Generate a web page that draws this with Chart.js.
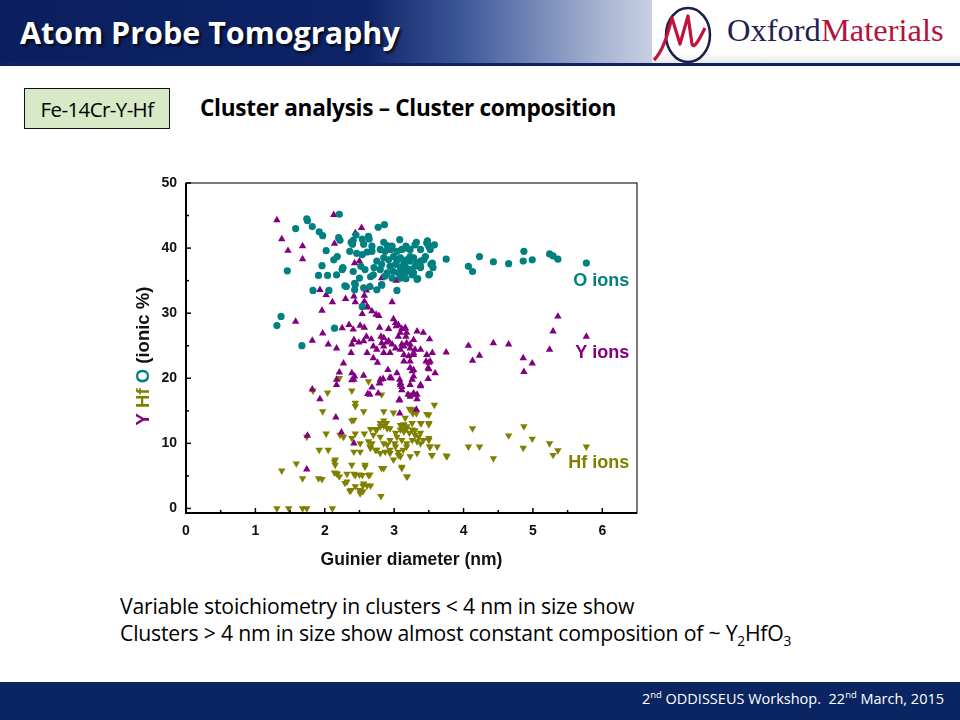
<!DOCTYPE html>
<html><head><meta charset="utf-8">
<script src="https://cdn.jsdelivr.net/npm/chart.js@4.4.1/dist/chart.umd.min.js"></script>
<style>
body{margin:0;width:960px;height:720px;position:relative;overflow:hidden;background:#fff;font-family:'Open Sans',sans-serif}
.abs{position:absolute}
#hdr{left:0;top:0;width:960px;height:64px;background:linear-gradient(to right,#0b1f5e 0%,#0e2467 38%,#3d5696 48%,#7d90bd 57%,#aab6d2 63%,#c8d0e2 68%,#dfe3ec 100%)}
#title{left:20px;top:11px;font:bold 30.5px 'Open Sans';color:#fff;text-shadow:2px 2px 3px rgba(0,0,0,.8);white-space:nowrap}
#logo{left:652px;top:0;width:308px;height:63px;background:linear-gradient(to bottom,#fff 0%,#fff 85%,#e8e8ea 100%)}
#hline{left:0;top:63px;width:960px;height:3px;background:#0d2466}
#logotxt{left:727px;top:12px;font:32.5px 'Liberation Serif',serif;white-space:nowrap;color:#1e2350}
#logotxt span{color:#b5123a}
#box{left:24px;top:88px;background:#d7e9c6;border:1.5px solid #111;font:20.5px 'Open Sans';display:flex;align-items:center;justify-content:center;box-sizing:border-box;width:146px;height:41px;letter-spacing:-0.6px}
#sub{left:200px;top:92px;font:bold 22.6px 'Open Sans';white-space:nowrap;color:#000;letter-spacing:-0.3px}
#txt{left:120px;top:592px;font:21.2px 'Open Sans';line-height:27px;color:#000;white-space:nowrap;letter-spacing:-0.2px}
#foot{left:0;top:682px;width:960px;height:38px;background:#0b2563}
#foottxt{right:16px;top:689px;font:14.5px 'Open Sans';color:#fff;white-space:nowrap}
sup{font-size:65%;line-height:0}
sub{font-size:65%;line-height:0}
</style></head><body>
<div id="hdr" class="abs"></div>
<div id="title" class="abs">Atom Probe Tomography</div>
<div id="logo" class="abs"></div>
<svg class="abs" style="left:650px;top:2px" width="76" height="62">
<ellipse cx="38" cy="33" rx="22" ry="27" fill="none" stroke="#1c1f4a" stroke-width="2.5"/>
<path d="M4 58 C14 48 18 30 22 16 L30 42 L38 14 L42 42 C44 48 50 36 55 26" fill="none" stroke="#c0143c" stroke-width="3.2" stroke-linejoin="round"/>
</svg>
<div id="logotxt" class="abs">Oxford<span>Materials</span></div>
<div id="hline" class="abs"></div>
<div id="box" class="abs">Fe-14Cr-Y-Hf</div>
<div id="sub" class="abs">Cluster analysis – Cluster composition</div>
<canvas id="c" class="abs" width="520" height="410" style="left:130px;top:170px"></canvas>
<div id="txt" class="abs">Variable stoichiometry in clusters &lt; 4 nm in size show<br>Clusters &gt; 4 nm in size show almost constant composition of ~ Y<sub>2</sub>HfO<sub>3</sub></div>
<div id="foot" class="abs"></div>
<div id="foottxt" class="abs">2<sup>nd</sup> ODDISSEUS Workshop.&nbsp; 22<sup>nd</sup> March, 2015</div>
<script>
// ---- data (Guinier diameter nm, ionic %) ----
const oDiameter=[1.74,1.75,2.21,1.58,1.82,1.92,1.97,2.20,2.22,2.02,2.18,2.13,1.96,1.46,1.91,2.04,2.17,2.26,1.83,2.06,2.31,2.43,2.43,1.37,1.31,2.14,2.54,2.82,1.67,2.77,2.86,2.63,2.64,3.08,2.41,2.45,2.40,2.56,2.36,2.26,2.38,2.54,2.85,2.90,2.97,2.68,2.46,2.54,2.61,2.68,2.80,2.87,2.95,3.04,3.11,3.17,3.23,3.30,3.38,3.47,3.50,3.58,3.75,3.55,3.56,3.50,3.33,
2.85,2.92,2.99,3.04,3.09,3.14,3.18,3.23,3.28,3.33,3.38,3.43,2.94,3.02,3.09,3.16,3.23,3.30,3.38,2.99,3.06,3.14,3.18,3.26,2.90,2.82,2.75,2.71,2.80,2.87,2.97,3.09,3.17,
2.41,2.50,2.44,2.56,2.65,2.75,2.82,2.66,2.58,2.70,2.52,2.29,2.25,3.04,
3.32,3.48,3.52,3.53,3.51,3.34,3.38,3.23,3.18,3.45,3.28,3.14,
4.07,4.13,4.23,4.43,4.65,4.86,4.87,4.99,5.24,5.29,5.36,5.77];
const oPercent=[44.5,44.2,45.2,43.0,43.3,42.5,41.9,41.6,41.2,39.6,38.7,38.2,37.3,36.5,35.8,35.8,35.9,36.9,33.5,33.5,34.1,34.6,33.6,29.5,28.1,27.7,31.0,34.3,25.0,43.2,43.6,41.8,41.4,41.3,41.2,42.0,40.6,40.6,39.5,37.0,40.9,41.4,40.9,40.4,40.3,40.3,39.2,39.0,39.4,39.5,39.8,39.5,39.8,39.5,39.8,40.3,39.8,40.5,39.8,40.8,40.3,40.5,38.3,37.7,37.0,35.9,35.2,
38.5,38.2,38.7,38.0,38.5,37.7,38.2,38.0,38.5,37.7,38.0,38.2,37.2,37.5,37.0,37.2,36.7,37.2,37.0,36.4,36.2,35.9,36.4,35.9,36.2,37.5,38.0,37.0,36.7,35.7,35.4,35.4,35.3,
36.4,35.4,34.4,33.9,34.1,33.6,34.4,35.6,36.7,35.9,37.2,34.2,36.7,33.5,
40.9,41.1,39.8,37.5,36.0,35.3,37.2,38.7,40.0,38.7,36.2,36.2,
37.2,36.4,38.7,37.9,37.6,38.0,39.5,38.2,39.1,38.8,38.3,37.7];

const yDiameter=[1.31,1.38,1.47,1.68,1.68,2.13,2.14,2.44,2.53,2.43,2.50,2.82,3.03,1.93,2.02,2.11,2.30,2.42,2.57,2.60,2.66,2.44,2.57,2.97,1.96,2.62,2.68,2.74,2.54,1.58,1.97,1.82,2.25,2.35,2.41,2.51,2.57,2.79,2.99,3.03,2.92,3.11,2.42,2.56,2.67,2.81,2.89,3.06,2.05,2.17,2.70,2.85,
2.61,2.78,2.39,2.49,2.60,3.06,3.02,3.16,3.18,3.09,3.33,3.42,3.51,2.85,2.92,2.97,3.02,2.82,2.94,2.85,2.75,3.11,3.18,3.23,3.30,3.09,3.14,3.21,3.28,3.38,3.47,3.55,3.46,3.50,3.75,3.23,3.26,3.28,3.49,3.59,3.49,2.91,3.04,2.96,2.84,2.79,3.09,3.11,2.68,2.39,2.42,2.56,2.21,2.27,2.38,2.76,2.70,2.61,2.17,1.93,2.65,3.08,3.28,3.33,
3.16,3.17,3.28,3.23,3.14,3.28,3.52,3.23,3.14,3.28,3.50,3.26,3.38,3.11,3.28,3.33,3.23,
4.07,4.13,4.23,4.43,4.65,4.86,4.87,4.99,5.24,5.29,5.36,5.77,
2.39,2.62,2.77,2.79,3.07,3.08,3.32,3.23,3.38,3.09,2.16,2.24,2.42,1.74,1.82,1.75,2.17,2.43,2.80,2.94,3.08,3.20];
const yPercent=[44.3,41.4,39.6,40.3,38.3,45.1,40.7,42.3,43.1,37.7,38.0,35.4,35.0,33.6,32.8,31.7,32.2,32.6,32.7,33.5,34.1,31.7,31.8,31.7,30.4,30.9,30.3,29.8,29.9,28.7,26.9,25.8,27.7,28.2,27.5,28.1,27.8,27.8,29.1,28.0,27.6,27.6,25.9,25.7,26.0,26.4,25.5,26.4,25.2,24.6,24.9,24.9,
31.0,29.6,25.2,25.5,26.4,28.2,28.5,27.7,27.0,27.0,27.2,27.0,26.0,26.2,25.7,25.2,24.6,25.4,23.9,23.9,24.4,25.2,25.4,24.6,24.4,24.4,23.6,23.4,23.9,24.4,23.6,23.9,22.6,22.4,24.0,21.6,21.1,20.3,21.6,20.8,19.9,21.3,20.8,20.0,19.9,19.3,19.0,18.2,18.6,20.8,19.8,20.4,20.9,22.3,23.9,22.4,23.1,23.9,19.8,16.8,17.5,16.7,17.5,16.8,
27.7,26.4,25.9,25.2,24.9,23.6,22.6,22.6,22.6,21.3,21.4,19.8,19.0,18.7,17.7,17.5,17.2,
25.0,22.7,23.5,25.4,25.2,23.1,21.0,22.3,24.4,27.2,29.5,26.4,
19.7,17.6,17.7,19.2,16.6,14.6,15.2,19.0,18.8,19.3,14.0,11.7,10.0,6.0,18.3,11.2,19.0,20.3,19.8,20.1,19.8,17.5];

const hfDiameter=[1.31,1.48,1.68,1.74,2.11,1.38,1.59,1.68,1.91,1.96,1.74,1.92,2.05,2.02,1.97,1.83,2.04,2.21,2.14,2.15,2.17,2.21,2.29,2.36,2.44,2.54,2.63,2.44,2.56,2.51,2.55,2.39,2.58,2.42,2.51,2.22,2.27,2.39,2.44,2.57,2.42,2.39,2.44,2.44,2.56,2.39,2.63,2.81,2.85,2.82,2.99,2.80,2.85,2.90,2.75,2.70,2.80,2.68,2.66,2.75,2.80,2.87,2.94,3.02,2.85,2.94,3.04,3.09,3.14,3.18,3.11,3.18,3.06,2.99,2.85,3.11,3.18,
3.21,3.30,3.23,3.27,3.47,3.58,3.38,3.50,2.66,2.73,2.85,2.89,2.80,2.94,3.02,3.09,3.14,3.18,3.26,3.30,3.38,3.26,3.33,3.42,3.50,3.52,3.54,3.62,3.76,2.63,2.65,2.73,2.90,3.01,3.06,3.09,2.94,2.51,2.15,2.14,2.18,2.32,2.42,2.50,2.65,2.58,2.32,2.55,2.61,2.66,2.38,2.50,2.82,3.33,
3.50,3.28,3.22,3.32,3.16,3.26,3.39,3.50,3.14,3.30,3.22,3.35,3.50,3.51,3.55,3.38,3.18,3.23,3.13,3.19,3.11,
3.75,4.07,4.13,4.23,4.43,4.65,4.87,4.86,4.99,5.24,5.29,5.36,5.77];
const hfPercent=[0,0,0,0,0,5.8,6.9,4.6,4.6,4.5,11.0,9.0,9.0,11.5,14.9,18.1,17.8,20.0,7.2,6.7,5.4,4.9,3.9,2.7,5.1,5.1,5.1,3.4,3.8,2.3,2.6,6.7,6.7,8.7,8.7,11.3,11.0,10.8,11.5,11.5,13.6,13.5,16.2,15.7,14.9,18.1,19.5,1.9,14.9,17.5,14.7,13.1,12.7,12.3,12.1,11.3,11.0,10.0,9.3,9.0,8.5,8.7,9.0,9.5,10.0,10.5,11.0,12.1,12.9,12.3,10.5,10.0,8.2,7.5,6.2,6.2,4.9,
17.5,17.6,15.2,14.6,14.5,15.9,13.1,13.1,12.2,12.2,13.5,13.1,12.6,12.3,11.6,12.8,11.8,12.6,12.1,11.3,11.6,10.5,10.3,10.5,10.5,9.5,8.2,9.5,8.0,10.3,9.5,9.0,9.8,10.0,8.7,8.0,8.5,10.0,7.5,5.5,5.3,5.3,5.3,5.2,5.2,6.4,4.1,3.5,3.5,3.5,2.8,2.8,6.2,8.5,
14.4,15.2,15.3,14.6,13.9,13.1,13.1,12.9,12.3,12.0,11.6,11.0,10.8,9.5,8.2,10.0,9.5,8.0,9.0,4.9,6.4,
8.1,9.5,12.3,9.5,7.7,11.2,12.6,9.3,10.7,10.0,8.2,8.9,9.5];

const xMajorTicks=[0,1,2,3,4,5,6];
const xMinorTicks=[0.5,1.5,2.5,3.5,4.5,5.5];
const yMajorTicks=[0,10,20,30,40,50];
const yMinorTicks=[5,15,25,35,45];
const seriesLabels=['O ions','Y ions','Hf ions'];

const C_O='#008080', C_Y='#800080', C_HF='#808000';
const pts=(xs,ys)=>xs.map((v,i)=>({x:v,y:ys[i]}));

Chart.defaults.font.family="'Liberation Sans', Arial, sans-serif";

const decor={id:'decor',afterDraw(ch){
  const {ctx,chartArea:a,scales:{x,y}}=ch;
  ctx.save();
  ctx.strokeStyle='#333';ctx.lineWidth=1.3;
  ctx.strokeRect(a.left,a.top,a.right-a.left,a.bottom-a.top);
  ctx.strokeStyle='#000';ctx.lineWidth=2;
  ctx.beginPath();ctx.moveTo(a.left,a.top);ctx.lineTo(a.left,a.bottom);ctx.lineTo(a.right,a.bottom);ctx.stroke();
  ctx.lineWidth=1.5;
  const tick=(vals,len,isX)=>{vals.forEach(v=>{ctx.beginPath();
    if(isX){const p=x.getPixelForValue(v);ctx.moveTo(p,a.bottom);ctx.lineTo(p,a.bottom-len);}
    else{const p=y.getPixelForValue(v);ctx.moveTo(a.left,p);ctx.lineTo(a.left+len,p);}
    ctx.stroke();});};
  tick(xMajorTicks,5,true);tick(xMinorTicks,3,true);
  tick(yMajorTicks,5,false);tick(yMinorTicks,3,false);
  // axis titles
  ctx.fillStyle='#111';ctx.font="bold 17.5px 'Liberation Sans', Arial";
  ctx.textAlign='center';ctx.textBaseline='middle';
  ctx.fillText('Guinier diameter (nm)',(a.left+a.right)/2,a.bottom+47);
  ctx.font="bold 18.5px 'Liberation Sans', Arial";
  const parts=[['Y',C_Y],[' ','#111'],['Hf',C_HF],[' ','#111'],['O',C_O],[' (ionic %)','#111']];
  const tw=parts.reduce((s,p)=>s+ctx.measureText(p[0]).width,0);
  ctx.translate(14,186);ctx.rotate(-Math.PI/2);
  ctx.textAlign='left';let cx=-tw/2;
  parts.forEach(p=>{ctx.fillStyle=p[1];ctx.fillText(p[0],cx,0);cx+=ctx.measureText(p[0]).width;});
  ctx.setTransform(1,0,0,1,0,0);
  // series labels
  ctx.font="bold 18px 'Liberation Sans', Arial";ctx.textAlign='right';ctx.textBaseline='middle';
  const lx=x.getPixelForValue(6.39);
  [[C_O,35.0],[C_Y,23.9],[C_HF,7.0]].forEach((p,i)=>{ctx.fillStyle=p[0];ctx.fillText(seriesLabels[i],lx,y.getPixelForValue(p[1]));});
  ctx.restore();
}};

new Chart(document.getElementById('c'),{
  type:'scatter',
  data:{datasets:[
    {label:seriesLabels[0],data:pts(oDiameter,oPercent),pointStyle:'circle',pointRadius:3.6,backgroundColor:C_O,borderColor:C_O,borderWidth:0},
    {label:seriesLabels[1],data:pts(yDiameter,yPercent),pointStyle:'triangle',pointRadius:4.3,backgroundColor:C_Y,borderColor:C_Y,borderWidth:0},
    {label:seriesLabels[2],data:pts(hfDiameter,hfPercent),pointStyle:'triangle',rotation:180,pointRadius:4.3,backgroundColor:C_HF,borderColor:C_HF,borderWidth:0}
  ]},
  options:{
    responsive:false,animation:false,devicePixelRatio:1,
    layout:{padding:{top:13,right:13,left:0,bottom:0}},
    plugins:{legend:{display:false},tooltip:{enabled:false}},
    scales:{
      x:{type:'linear',min:0,max:6.5,
        afterBuildTicks:s=>{s.ticks=xMajorTicks.map(v=>({value:v}));},
        afterFit:s=>{s.height=67;},
        grid:{display:false},border:{display:false},
        ticks:{padding:2,color:'#111',font:{size:14,weight:'bold'},maxRotation:0}},
      y:{type:'linear',min:-0.7,max:50,
        afterBuildTicks:s=>{s.ticks=yMajorTicks.map(v=>({value:v}));},
        afterFit:s=>{s.width=56;},
        grid:{display:false},border:{display:false},
        ticks:{padding:1,color:'#111',font:{size:14,weight:'bold'}}}
    }
  },
  plugins:[decor]
});
</script>
</body></html>
